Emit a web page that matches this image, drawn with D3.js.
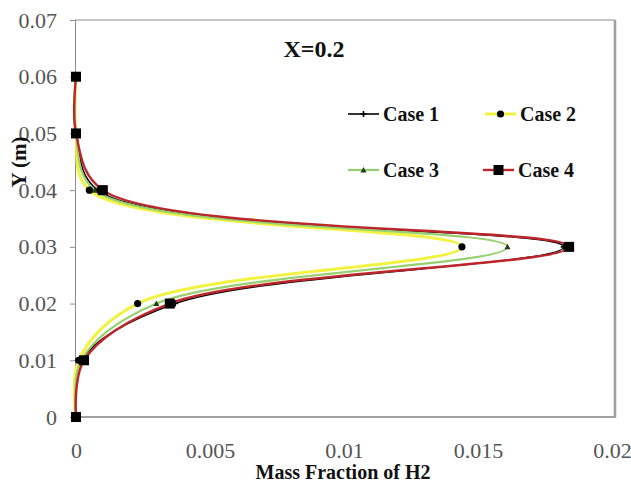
<!DOCTYPE html>
<html><head><meta charset="utf-8">
<script src="https://cdn.jsdelivr.net/npm/d3@7"></script>
<style>body{margin:0;background:#fff}svg{display:block}</style>
</head><body>
<svg id="c" width="631" height="488"></svg>
<script>
// ---- data ----
const yPositions = [0, 0.01, 0.02, 0.03, 0.04, 0.05, 0.06];
const case1 = [0, 0.0002, 0.0037, 0.0182, 0.0008, 0.00002, 0];
const case2 = [0, 0.0001, 0.0023, 0.0144, 0.0005, 0, 0];
const case3 = [0, 0.0002, 0.0030, 0.0161, 0.0007, 0, 0];
const case4 = [0, 0.0003, 0.0035, 0.0184, 0.0010, 0, 0];
const seriesNames = ["Case 1", "Case 2", "Case 3", "Case 4"];
const xTickValues = [0, 0.005, 0.01, 0.015, 0.02];
const xTickLabels = ["0", "0.005", "0.01", "0.015", "0.02"];
const yTickValues = [0, 0.01, 0.02, 0.03, 0.04, 0.05, 0.06, 0.07];
const yTickLabels = ["0", "0.01", "0.02", "0.03", "0.04", "0.05", "0.06", "0.07"];
const chartTitle = "X=0.2";
const xTitle = "Mass Fraction of H2";
const yTitle = "Y (m)";

const svg = d3.select("#c");
const L = 76, R = 612, T = 20, B = 417;
const x = d3.scaleLinear().domain([0, 0.02]).range([L, R]);
const y = d3.scaleLinear().domain([0, 0.07]).range([B, T]);

const styles = [
  {color: "#000000", width: 1.6, marker: "plus"},
  {color: "#f2f240", width: 3, marker: "circle"},
  {color: "#97d070", width: 2.2, marker: "tri"},
  {color: "#bd252b", width: 2.4, marker: "square"}
];
const allSeries = [case1, case2, case3, case4];

// plot frame
svg.append("line").attr("x1", L - 1).attr("x2", 615).attr("y1", T).attr("y2", T).attr("stroke", "#8c8c8c").attr("stroke-width", 1);
svg.append("line").attr("x1", 615).attr("x2", 615).attr("y1", T).attr("y2", B + 1).attr("stroke", "#a0a0a0").attr("stroke-width", 2.5);
svg.append("line").attr("x1", L - 1).attr("x2", 616).attr("y1", B).attr("y2", B).attr("stroke", "#a0a0a0").attr("stroke-width", 2);

// axes
const yAxis = d3.axisLeft(y).tickValues(yTickValues).tickFormat((d, i) => yTickLabels[i]).tickSize(5).tickPadding(13);
const gy = svg.append("g").attr("transform", `translate(${L - 1},0)`).call(yAxis);
gy.select(".domain").attr("stroke", "#8c8c8c");
gy.selectAll(".tick line").attr("stroke", "#8c8c8c");
gy.selectAll("text").attr("font-family", "Liberation Serif").attr("font-size", 22).attr("fill", "#555");

const xAxis = d3.axisBottom(x).tickValues(xTickValues).tickFormat((d, i) => xTickLabels[i]).tickSize(0).tickPadding(25);
const gx = svg.append("g").attr("transform", `translate(0,${B})`).call(xAxis);
gx.select(".domain").remove();
gx.selectAll("text").attr("font-family", "Liberation Serif").attr("font-size", 22).attr("fill", "#555");

// lines
const line = d3.line().x(d => x(d[0])).y(d => y(d[1])).curve(d3.curveCatmullRom.alpha(0.5));
allSeries.forEach((s, i) => {
  const pts = s.map((v, j) => [v, yPositions[j]]);
  svg.append("path").datum(pts).attr("d", line).attr("fill", "none")
    .attr("stroke", styles[i].color).attr("stroke-width", styles[i].width);
});

function drawMarker(g, type, cx, cy) {
  if (type === "square") {
    g.append("rect").attr("x", cx - 5).attr("y", cy - 5).attr("width", 10).attr("height", 10).attr("fill", "#000");
  } else if (type === "circle") {
    g.append("circle").attr("cx", cx).attr("cy", cy).attr("r", 3.6).attr("fill", "#000");
  } else if (type === "tri") {
    g.append("path").attr("d", `M${cx},${cy - 3} L${cx + 3},${cy + 2.5} L${cx - 3},${cy + 2.5} Z`).attr("fill", "#1f3d12");
  } else if (type === "plus") {
    g.append("path").attr("d", `M${cx - 3},${cy} H${cx + 3} M${cx},${cy - 3} V${cy + 3}`)
      .attr("stroke", "#000").attr("stroke-width", 1.6);
  }
}
allSeries.forEach((s, i) => {
  const g = svg.append("g");
  s.forEach((v, j) => drawMarker(g, styles[i].marker, x(v), y(yPositions[j])));
});

// legend
const legendPos = [[348, 114], [485, 114], [348, 170], [483, 170]];
seriesNames.forEach((n, i) => {
  const [lx, ly] = legendPos[i];
  svg.append("line").attr("x1", lx).attr("x2", lx + 31).attr("y1", ly).attr("y2", ly)
    .attr("stroke", styles[i].color).attr("stroke-width", styles[i].width);
  drawMarker(svg, styles[i].marker, lx + 15.5, ly);
  svg.append("text").attr("x", lx + 35).attr("y", ly + 7).text(n)
    .attr("font-family", "Liberation Serif").attr("font-weight", "bold").attr("font-size", 20).attr("fill", "#111");
});

// titles
svg.append("text").attr("x", 314).attr("y", 57).attr("text-anchor", "middle").text(chartTitle)
  .attr("font-family", "Liberation Serif").attr("font-weight", "bold").attr("font-size", 24).attr("fill", "#111");
svg.append("text").attr("x", 343).attr("y", 479).attr("text-anchor", "middle").text(xTitle)
  .attr("font-family", "Liberation Serif").attr("font-weight", "bold").attr("font-size", 20).attr("fill", "#111");
svg.append("text").attr("transform", "translate(26,162) rotate(-90)").attr("text-anchor", "middle").text(yTitle)
  .attr("font-family", "Liberation Serif").attr("font-weight", "bold").attr("font-size", 21).attr("fill", "#111");
</script>
</body></html>
